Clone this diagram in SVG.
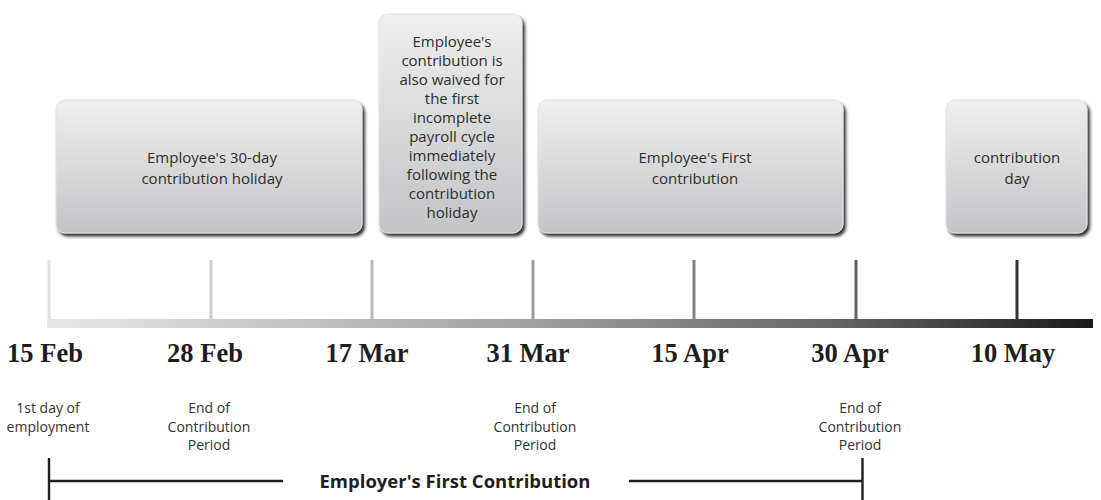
<svg xmlns="http://www.w3.org/2000/svg" width="1101" height="500" viewBox="0 0 1101 500">
<style>
.box{fill:url(#boxGrad);stroke:#e2e2e2;stroke-width:1;filter:url(#shadow)}
.bt{font-family:"Open Sans","Noto Sans",sans-serif;font-size:15px;fill:#2e2e2e;text-anchor:middle}
.date{font-family:"Liberation Serif","Times New Roman",serif;font-weight:bold;font-size:26.5px;fill:#1e1e1e;text-anchor:middle}
.lbl{font-family:"Open Sans","Noto Sans",sans-serif;font-size:14px;fill:#333;text-anchor:middle}
.span{font-family:"Open Sans","Noto Sans",sans-serif;font-weight:bold;font-size:18.5px;fill:#1e1e1e;text-anchor:middle}
.tick{stroke-width:3}
.br{stroke:#1e1e1e;stroke-width:2.4;fill:none}
</style>
<defs>
<linearGradient id="boxGrad" x1="0" y1="0" x2="0" y2="1">
<stop offset="0" stop-color="#efefef"/>
<stop offset="1" stop-color="#c3c4c6"/>
</linearGradient>
<linearGradient id="barGrad" gradientUnits="userSpaceOnUse" x1="47" y1="0" x2="1093" y2="0">
<stop offset="0" stop-color="#e8e8e8"/>
<stop offset="0.45" stop-color="#a2a2a2"/>
<stop offset="0.75" stop-color="#666"/>
<stop offset="1" stop-color="#1a1a1a"/>
</linearGradient>
<filter id="shadow" x="-10%" y="-10%" width="120%" height="125%">
<feDropShadow dx="2.5" dy="3" stdDeviation="1.4" flood-color="#1a1a1a" flood-opacity="0.9"/>
</filter>
</defs>

<g id="node-holiday">
<rect class="box" x="56" y="100" width="306" height="133" rx="9"/>
<text class="bt" x="212" y="163">Employee's 30-day</text>
<text class="bt" x="212" y="184">contribution holiday</text>
</g>

<g id="node-waived">
<rect class="box" x="379" y="14" width="143" height="219" rx="9"/>
<text class="bt" x="452" y="47">Employee's</text>
<text class="bt" x="452" y="66">contribution is</text>
<text class="bt" x="452" y="85">also waived for</text>
<text class="bt" x="452" y="104">the first</text>
<text class="bt" x="452" y="123">incomplete</text>
<text class="bt" x="452" y="142">payroll cycle</text>
<text class="bt" x="452" y="161">immediately</text>
<text class="bt" x="452" y="180">following the</text>
<text class="bt" x="452" y="199">contribution</text>
<text class="bt" x="452" y="218">holiday</text>
</g>

<g id="node-first">
<rect class="box" x="538" y="100" width="305" height="133" rx="9"/>
<text class="bt" x="695" y="163">Employee's First</text>
<text class="bt" x="695" y="184">contribution</text>
</g>

<g id="node-day">
<rect class="box" x="946" y="100" width="141" height="133" rx="9"/>
<text class="bt" x="1017" y="163">contribution</text>
<text class="bt" x="1017" y="184">day</text>
</g>

<g id="timeline">
<line class="tick" x1="49" y1="260" x2="49" y2="320" stroke="#e0e0e0"/>
<line class="tick" x1="211" y1="260" x2="211" y2="320" stroke="#cdcdcd"/>
<line class="tick" x1="372" y1="260" x2="372" y2="320" stroke="#b8b8b8"/>
<line class="tick" x1="533" y1="260" x2="533" y2="320" stroke="#9c9c9c"/>
<line class="tick" x1="694" y1="260" x2="694" y2="320" stroke="#838383"/>
<line class="tick" x1="856" y1="260" x2="856" y2="320" stroke="#606060"/>
<line class="tick" x1="1017" y1="260" x2="1017" y2="320" stroke="#333"/>
<rect x="47" y="319" width="1046" height="9" fill="url(#barGrad)"/>
<text class="date" x="45" y="362">15 Feb</text>
<text class="date" x="205" y="362">28 Feb</text>
<text class="date" x="367" y="362">17 Mar</text>
<text class="date" x="528" y="362">31 Mar</text>
<text class="date" x="690" y="362">15 Apr</text>
<text class="date" x="850" y="362">30 Apr</text>
<text class="date" x="1013" y="362">10 May</text>
</g>

<g id="labels">
<text class="lbl" x="48" y="413">1st day of</text>
<text class="lbl" x="48" y="432">employment</text>
<text class="lbl" x="209" y="413">End of</text>
<text class="lbl" x="209" y="432">Contribution</text>
<text class="lbl" x="209" y="450">Period</text>
<text class="lbl" x="535" y="413">End of</text>
<text class="lbl" x="535" y="432">Contribution</text>
<text class="lbl" x="535" y="450">Period</text>
<text class="lbl" x="860" y="413">End of</text>
<text class="lbl" x="860" y="432">Contribution</text>
<text class="lbl" x="860" y="450">Period</text>
</g>

<g id="connectors">
<line class="br" x1="49" y1="458" x2="49" y2="500"/>
<line class="br" x1="49" y1="481" x2="283" y2="481"/>
<line class="br" x1="629" y1="481" x2="862.5" y2="481"/>
<line class="br" x1="862.5" y1="458" x2="862.5" y2="500"/>
<text class="span" x="455" y="488">Employer's First Contribution</text>
</g>
</svg>
